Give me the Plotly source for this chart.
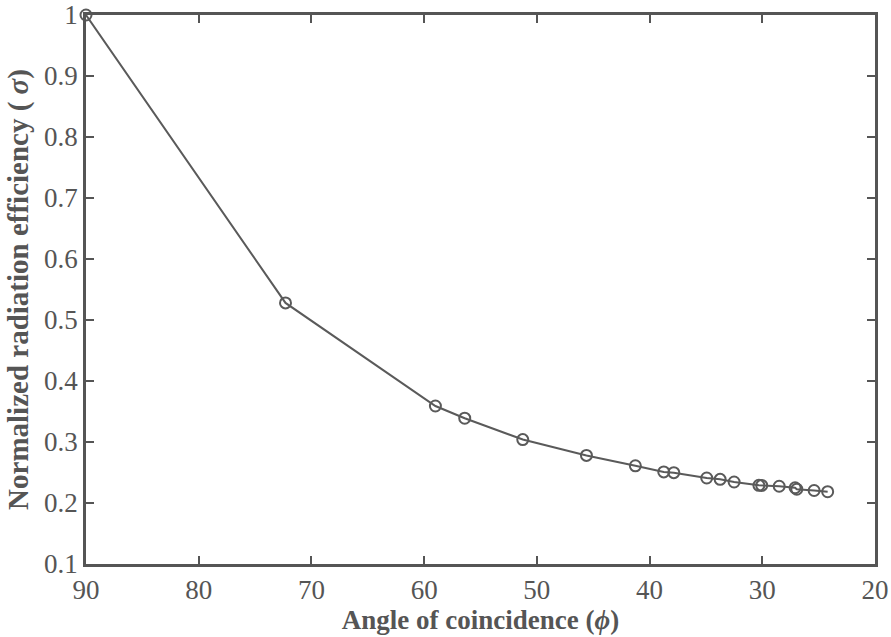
import plotly.graph_objects as go

angle = [90.0, 72.3, 59.0, 56.4, 51.25, 45.6, 41.26, 38.74, 37.85, 34.93, 33.74,
         32.5, 30.3, 30.05, 28.5, 27.09, 26.94, 25.4, 24.2]
efficiency = [1.0, 0.528, 0.359, 0.339, 0.304, 0.278, 0.261, 0.251, 0.2497, 0.241,
              0.2388, 0.2344, 0.229, 0.2288, 0.2275, 0.225, 0.2226, 0.2205, 0.2185]
x_ticks = [90, 80, 70, 60, 50, 40, 30, 20]
y_ticks = [0.1, 0.2, 0.3, 0.4, 0.5, 0.6, 0.7, 0.8, 0.9, 1]
y_tick_text = ["0.1", "0.2", "0.3", "0.4", "0.5", "0.6", "0.7", "0.8", "0.9", "1"]

gray = "#5a5a5a"
axis_col = "#555555"
fig = go.Figure()
fig.add_trace(go.Scatter(
    x=angle, y=efficiency, mode="lines+markers",
    line=dict(color=gray, width=2),
    marker=dict(symbol="circle-open", size=11, color=gray, line=dict(width=2, color=gray)),
    showlegend=False, cliponaxis=False,
))

fig.update_layout(
    width=891, height=637,
    margin=dict(l=86, r=16, t=15, b=73),
    plot_bgcolor="white", paper_bgcolor="white",
    font=dict(family="Liberation Serif", color=axis_col, size=27),
)
fig.update_xaxes(
    range=[90, 20], tickvals=x_ticks, ticks="inside", ticklen=8, tickwidth=2,
    tickcolor=axis_col, showline=True, linewidth=2.5, linecolor=axis_col,
    mirror="ticks", showgrid=False, zeroline=False, automargin=False,
    tickfont=dict(size=27, family="Liberation Serif", color=axis_col),
    title=dict(text="<b>Angle of coincidence (<i>ϕ</i>)</b>", standoff=6,
               font=dict(size=27, family="Liberation Serif", color=axis_col)),
)
fig.update_yaxes(
    range=[0.1, 1.0], tickvals=y_ticks, ticktext=y_tick_text, ticks="inside",
    ticklen=8, tickwidth=2, tickcolor=axis_col, showline=True, linewidth=2.5,
    linecolor=axis_col, mirror="ticks", showgrid=False, zeroline=False, automargin=False,
    tickfont=dict(size=27, family="Liberation Serif", color=axis_col),
    title=dict(text="<b>Normalized radiation efficiency ( <i>σ</i>)</b>", standoff=7,
               font=dict(size=29, family="Liberation Serif", color=axis_col)),
)

fig.write_html("out.html")
